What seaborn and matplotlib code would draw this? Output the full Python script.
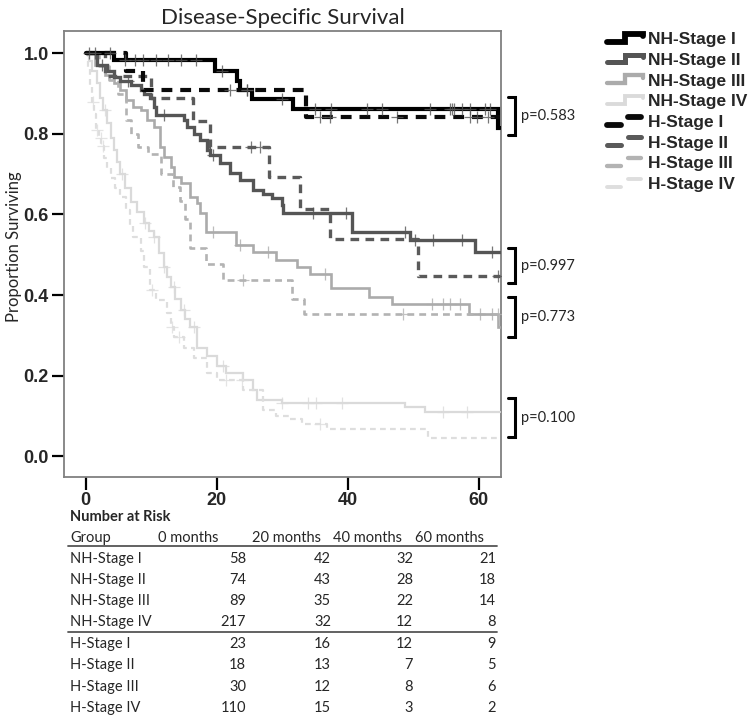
import numpy as np
import pandas as pd
import matplotlib
matplotlib.use("Agg")
import matplotlib.pyplot as plt
import seaborn as sns
from matplotlib.lines import Line2D
from matplotlib.legend_handler import HandlerBase

# %% data
groups = ["NH-Stage I", "NH-Stage II", "NH-Stage III", "NH-Stage IV",
          "H-Stage I", "H-Stage II", "H-Stage III", "H-Stage IV"]

# time where each survival level starts (months) and the level
nh1_t = [0, 4.4, 19.7, 23.1, 23.6, 25.4, 31.7, 62.9]
nh1_s = [1.0, 0.982, 0.957, 0.93, 0.908, 0.886, 0.861, 0.815]
nh2_t = [0, 1.7, 3.2, 4.3, 5.3, 6.9, 8.4, 8.9, 9.9, 10.4, 10.8, 15.0, 15.4, 16.5,
         17.5, 18.5, 19.0, 20.5, 22.0, 23.5, 25.5, 27.0, 28.5, 29.9, 30.2, 40.6,
         49.5, 59.4]
nh2_s = [1.0, 0.97, 0.955, 0.94, 0.93, 0.92, 0.908, 0.90, 0.888, 0.866, 0.846,
         0.834, 0.816, 0.80, 0.784, 0.76, 0.747, 0.727, 0.702, 0.685, 0.66, 0.652,
         0.64, 0.623, 0.603, 0.556, 0.536, 0.506]
nh3_t = [0, 1.5, 3.0, 4.3, 5.3, 6.2, 7.3, 8.4, 9.3, 10.4, 11.4, 11.9, 13.0, 13.5,
         14.5, 16.0, 17.0, 17.4, 18.4, 23.0, 25.5, 29.1, 32.3, 34.2, 37.5, 43.2,
         46.8, 58.5, 62.9]
nh3_s = [1.0, 0.97, 0.945, 0.925, 0.908, 0.883, 0.866, 0.858, 0.834, 0.816, 0.767,
         0.742, 0.717, 0.692, 0.677, 0.643, 0.628, 0.603, 0.556, 0.524, 0.506, 0.488,
         0.47, 0.453, 0.417, 0.395, 0.378, 0.352, 0.322]
nh4_t = [0, 0.5, 1.0, 1.7, 2.2, 2.7, 3.2, 3.8, 4.3, 4.8, 5.3, 6.0, 6.9, 7.9, 8.9,
         9.6, 10.4, 11.2, 11.9, 12.4, 13.0, 13.7, 14.5, 15.2, 16.0, 17.0, 18.5,
         20.0, 21.5, 24.0, 25.5, 26.1, 29.9, 48.7, 51.8]
nh4_s = [1.0, 0.98, 0.955, 0.925, 0.89, 0.86, 0.826, 0.79, 0.76, 0.73, 0.70, 0.665,
         0.63, 0.605, 0.578, 0.56, 0.543, 0.505, 0.47, 0.445, 0.42, 0.39, 0.362,
         0.34, 0.32, 0.27, 0.25, 0.225, 0.206, 0.19, 0.164, 0.141, 0.132, 0.122,
         0.111]
h1_t = [0, 6.2, 8.8, 33.7]
h1_s = [1.0, 0.955, 0.908, 0.842]
h2_t = [0, 3.0, 10.0, 16.4, 19.0, 28.0, 32.7, 37.3, 50.7]
h2_s = [1.0, 0.944, 0.889, 0.833, 0.767, 0.693, 0.613, 0.538, 0.447]
h3_t = [0, 2.0, 3.5, 5.0, 6.1, 7.0, 8.0, 9.5, 11.5, 13.3, 14.4, 15.2, 15.9, 18.4,
        21.0, 31.5, 33.4]
h3_s = [1.0, 0.967, 0.933, 0.90, 0.834, 0.80, 0.767, 0.75, 0.70, 0.667, 0.633,
        0.59, 0.518, 0.478, 0.437, 0.39, 0.352]
h4_t = [0, 0.3, 0.7, 1.0, 1.3, 1.6, 2.0, 2.4, 2.8, 3.3, 3.8, 4.5, 5.3, 6.1, 6.7,
        7.3, 8.4, 8.9, 9.9, 10.8, 12.4, 13.0, 13.5, 15.0, 16.5, 18.5, 20.0, 24.0,
        27.0, 29.1, 31.1, 33.0, 36.8, 52.2]
h4_s = [1.0, 0.96, 0.92, 0.88, 0.85, 0.81, 0.79, 0.77, 0.74, 0.715, 0.69, 0.665,
        0.643, 0.61, 0.575, 0.543, 0.51, 0.47, 0.412, 0.387, 0.355, 0.32, 0.295,
        0.27, 0.245, 0.206, 0.19, 0.164, 0.114, 0.10, 0.094, 0.08, 0.067, 0.045]

# censored times (+ marks)
nh1_c = [0.5, 1.4, 3.7, 6.0, 7.5, 8.7, 10.8, 12.5, 14.6, 16.9, 20.8, 24.7, 30.0,
         35.0, 37.5, 42.9, 45.3, 52.5, 55.6, 55.9, 56.3, 57.4, 58.6, 60.9, 61.7]
nh2_c = [2.5, 6.5, 12.0, 19.5, 34.7, 39.8, 48.7, 50.2, 53.0, 57.4, 62.0]
nh3_c = [19.4, 23.5, 27.8, 36.5, 52.8, 54.5, 55.6, 57.1, 60.2, 62.0]
nh4_c = [3.0, 5.5, 9.0, 10.5, 12.0, 13.5, 15.0, 16.5, 21.0, 29.9, 33.9, 35.2,
         39.2, 54.5, 58.2]
h1_c = [22.0, 24.7, 35.7, 37.3, 47.6, 58.6, 59.8, 61.4]
h2_c = [25.3, 26.6, 62.9]
h3_c = [24.0, 48.4, 62.9]
h4_c = [1.2, 1.7, 2.3, 2.7, 10.1, 13.2, 14.2, 21.5, 23.8, 35.7]

curve_end = 63.2

# number at risk table
risk_cols = ["0 months", "20 months", "40 months", "60 months"]
risk_nh1 = [58, 42, 32, 21]
risk_nh2 = [74, 43, 28, 18]
risk_nh3 = [89, 35, 22, 14]
risk_nh4 = [217, 32, 12, 8]
risk_h1 = [23, 16, 12, 9]
risk_h2 = [18, 13, 7, 5]
risk_h3 = [30, 12, 8, 6]
risk_h4 = [110, 15, 3, 2]

# log-rank p values, with the survival range each bracket spans
p_labels = ["p=0.583", "p=0.997", "p=0.773", "p=0.100"]
p_top = [0.891, 0.516, 0.395, 0.144]
p_bot = [0.797, 0.429, 0.295, 0.047]

# %% styling per group
times = [nh1_t, nh2_t, nh3_t, nh4_t, h1_t, h2_t, h3_t, h4_t]
survs = [nh1_s, nh2_s, nh3_s, nh4_s, h1_s, h2_s, h3_s, h4_s]
cens = [nh1_c, nh2_c, nh3_c, nh4_c, h1_c, h2_c, h3_c, h4_c]
risks = [risk_nh1, risk_nh2, risk_nh3, risk_nh4, risk_h1, risk_h2, risk_h3, risk_h4]
colors = ["#000000", "#555555", "#ababab", "#dadada",
          "#0a0a0a", "#5a5a5a", "#b3b3b3", "#dedede"]
widths = [3.0, 2.4, 1.9, 1.6, 3.0, 2.4, 1.9, 1.6]

sns.set_style("white")
plt.rcParams["font.family"] = ["Liberation Sans", "DejaVu Sans"]

W, H = 755, 717
fig = plt.figure(figsize=(W / 100, H / 100), dpi=100)
fx = lambda px: px / W
fy = lambda py: 1 - py / H
ax = fig.add_axes([fx(64), fy(477), fx(501) - fx(64), fy(31) - fy(477)])

for i, g in enumerate(groups):
    t = list(times[i]) + [curve_end]
    s = list(survs[i]) + [survs[i][-1]]
    df = pd.DataFrame({"t": t, "s": s})
    ls = "-" if g.startswith("NH") else (0, (2.6, 1.9))
    sns.lineplot(data=df, x="t", y="s", ax=ax, color=colors[i], lw=widths[i],
                 drawstyle="steps-post", linestyle=ls, errorbar=None,
                 solid_joinstyle="miter", dash_capstyle="butt", zorder=10 - i % 4)
    # censor marks sit on the curve
    ct = np.array(cens[i])
    idx = np.searchsorted(np.array(times[i]), ct, side="right") - 1
    cs = np.array(survs[i])[idx]
    ax.plot(ct, cs, ls="none", marker="+", ms=8, mew=0.9,
            color=colors[i] if i % 4 else "#555555", alpha=0.8, zorder=11)

ax.set_xlim(-3.3, 63.4)
ax.set_ylim(-0.051, 1.055)
ax.set_xticks([0, 20, 40, 60])
ax.set_yticks([0.0, 0.2, 0.4, 0.6, 0.8, 1.0])
ax.set_yticklabels([f"{v:.1f}" for v in [0.0, 0.2, 0.4, 0.6, 0.8, 1.0]])
ax.tick_params(axis="both", which="major", direction="out", length=9, width=1.6,
               color="black", labelsize=13, bottom=True, left=True, pad=2)
for lab in ax.get_xticklabels() + ax.get_yticklabels():
    lab.set_fontweight("bold")
for sp in ax.spines.values():
    sp.set_color("#808080")
    sp.set_linewidth(1.3)
ax.set_xlabel("")
ax.set_ylabel("Proportion Surviving", family=["Lato", "DejaVu Sans"], fontsize=12)
ax.yaxis.set_label_coords(-0.095, 0.516)
ax.set_title("Disease-Specific Survival", family=["Lato", "DejaVu Sans"],
             fontsize=16, pad=5)

# p-value brackets to the right of the axes
trans = ax.get_yaxis_transform()
for lab, top, bot in zip(p_labels, p_top, p_bot):
    ax.plot([1.017, 1.033, 1.033, 1.017], [top, top, bot, bot], color="black",
            lw=2.2, transform=trans, clip_on=False, solid_joinstyle="miter")
    ax.text(1.045, (top + bot) / 2, lab, transform=trans, va="center", ha="left",
            fontsize=10.5, family=["Lato", "DejaVu Sans"])


# %% legend with step / dash icons
class StepHandler(HandlerBase):
    def create_artists(self, legend, orig, xd, yd, width, height, fontsize, trans):
        c, lw = orig.get_color(), orig.get_linewidth() + 1.2
        x0 = -xd
        lo, hi = -yd + 0.2 * height, -yd + 0.85 * height
        if orig.get_linestyle() == "-":
            xs = [x0, x0 + 0.5 * width, x0 + 0.5 * width, x0 + width, x0 + width]
            ys = [lo, lo, hi, hi, hi - 0.2 * height]
            return [Line2D(xs, ys, color=c, lw=lw, transform=trans,
                           solid_joinstyle="miter")]
        a = Line2D([x0, x0 + 0.38 * width], [lo, lo], color=c, lw=lw, transform=trans)
        b = Line2D([x0 + 0.6 * width, x0 + 0.95 * width], [hi, hi], color=c, lw=lw,
                   transform=trans)
        return [a, b]


handles = [Line2D([], [], color=colors[i], lw=widths[i],
                  ls="-" if g.startswith("NH") else "--") for i, g in enumerate(groups)]
fig.legend(handles, groups, handler_map={Line2D: StepHandler()}, loc="upper left",
           bbox_to_anchor=(fx(607), fy(32)), frameon=False, borderpad=0,
           borderaxespad=0, handlelength=2.05, handletextpad=0.3, labelspacing=0.32,
           prop={"weight": "bold", "size": 12.5})

# %% number at risk table
tab_font = ["Lato", "DejaVu Sans"]
fig.text(fx(70), fy(517), "Number at Risk", fontsize=10.5, weight="bold",
         family=tab_font, va="center")
fig.text(fx(70), fy(538), "Group", fontsize=10.5, family=tab_font, va="center")
head_x = [158, 252, 333, 415]
for x, col in zip(head_x, risk_cols):
    fig.text(fx(x), fy(538), col, fontsize=10.5, family=tab_font, va="center")
fig.add_artist(Line2D([fx(68), fx(497)], [fy(546), fy(546)], color="#555555", lw=1.3))
row_y = [559, 580, 601, 622, 644, 665, 687, 708]
num_x = [246, 331, 413, 496]
for g, y, r in zip(groups, row_y, risks):
    fig.text(fx(70), fy(y), g, fontsize=10.5, family=tab_font, va="center")
    for x, v in zip(num_x, r):
        fig.text(fx(x), fy(y), str(v), fontsize=10.5, family=tab_font, va="center",
                 ha="right")
fig.add_artist(Line2D([fx(68), fx(497)], [fy(632), fy(632)], color="#555555", lw=1.3))

fig.savefig("out.png", dpi=100)
